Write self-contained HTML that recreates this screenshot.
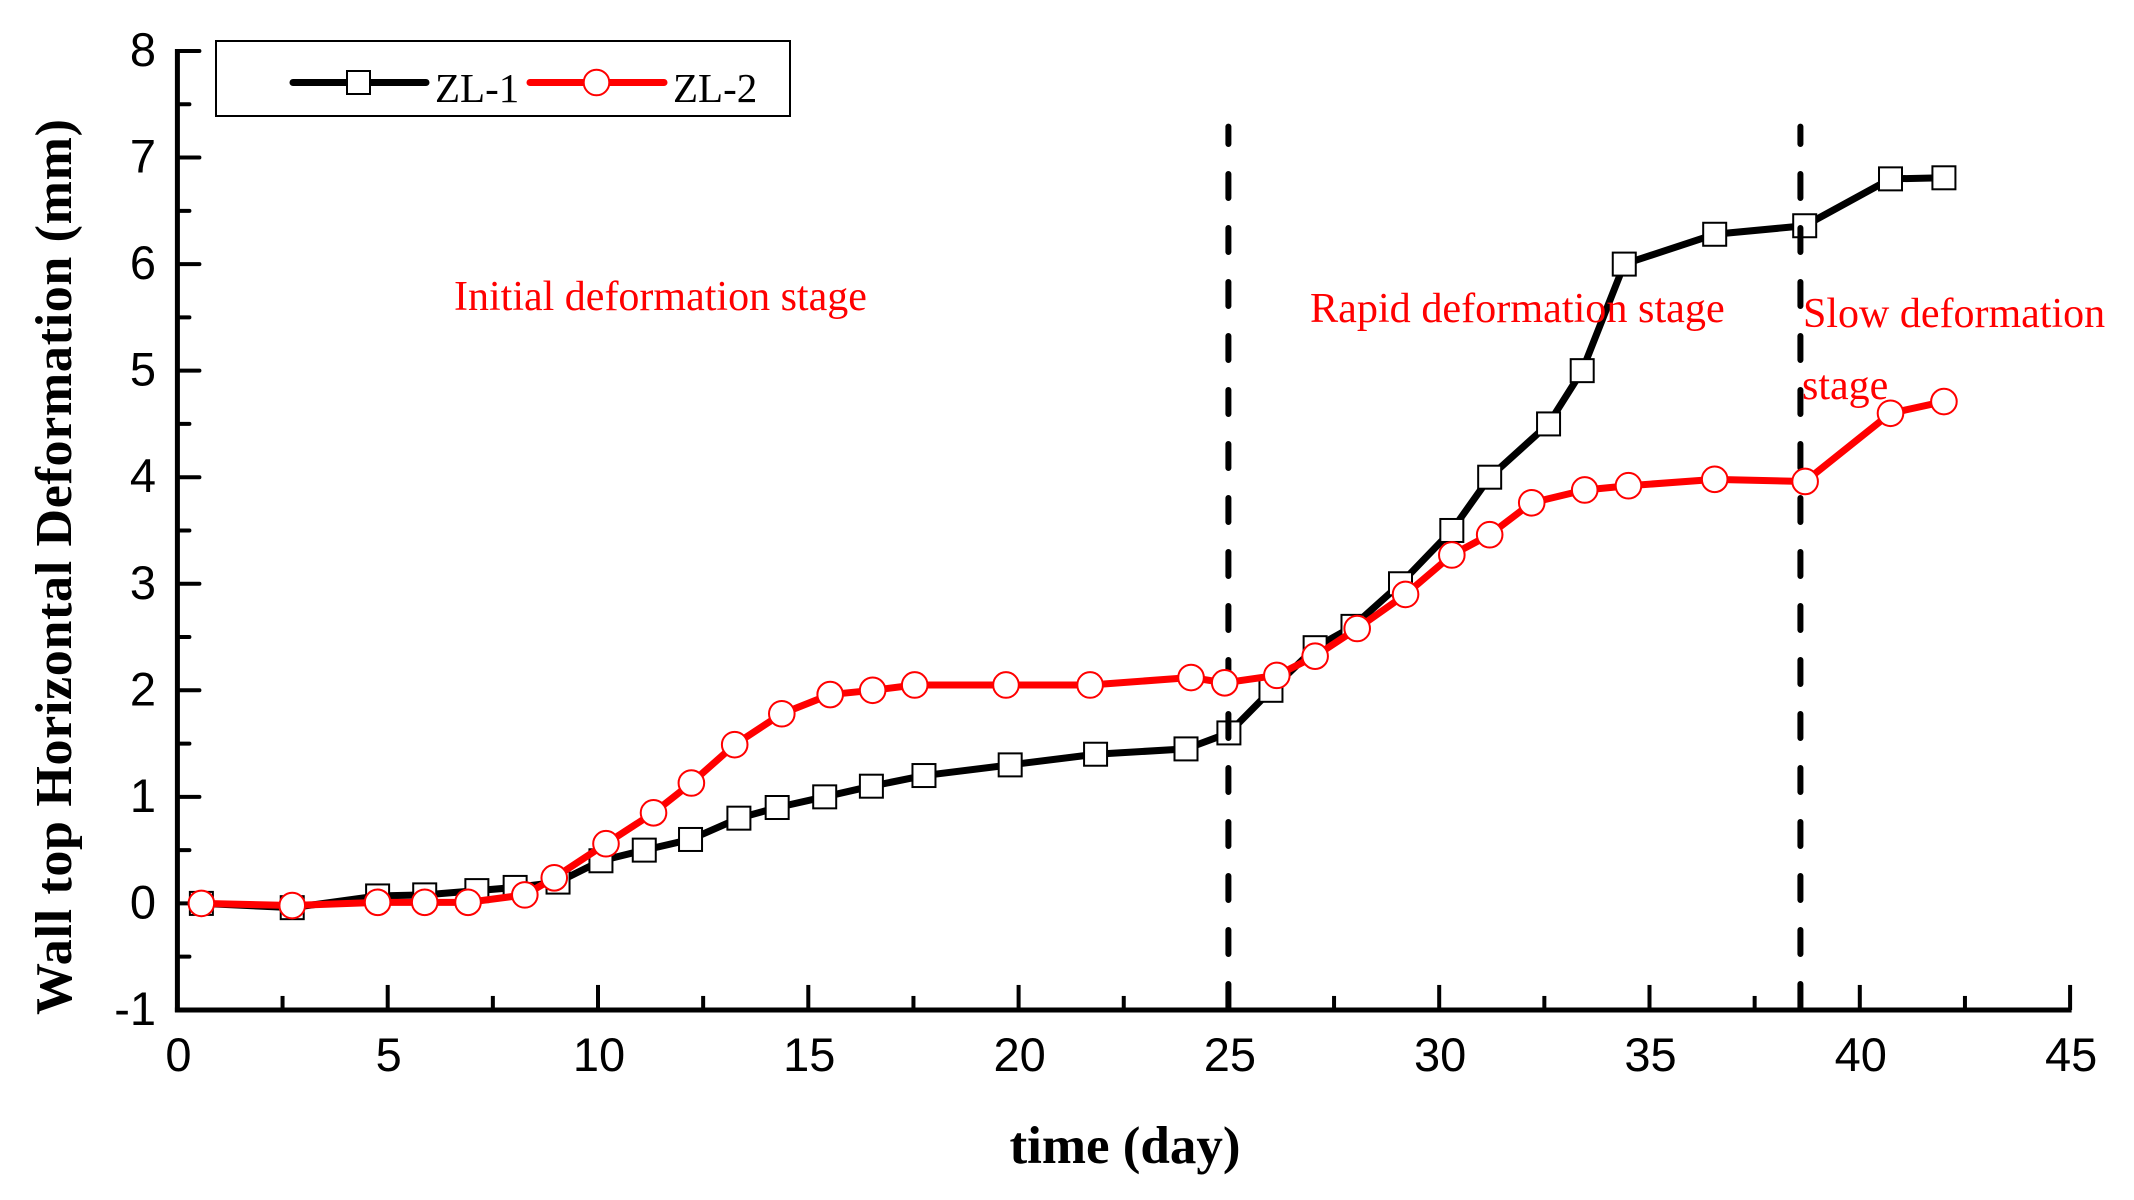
<!DOCTYPE html>
<html lang="en">
<head>
<meta charset="utf-8">
<title>Wall top Horizontal Deformation</title>
<style>
html,body{margin:0;padding:0;background:#fff;}
svg{display:block;}
.serif{font-family:"Liberation Serif",serif;}
.sans{font-family:"Liberation Sans",sans-serif;}
</style>
</head>
<body>
<svg id="chart" xmlns="http://www.w3.org/2000/svg" width="2134" height="1200" viewBox="0 0 2134 1200">
  <rect x="0" y="0" width="2134" height="1200" fill="#fff"/>
  <g id="axes"></g>
  <g id="series1"></g>
  <g id="stages"></g>
  <g id="series2"></g>
  <g>
    <rect x="216" y="41" width="574" height="75" fill="#fff" stroke="#000" stroke-width="2"/>
    <g>
      <line x1="293" y1="82.5" x2="426" y2="82.5" stroke="#000" stroke-width="7" stroke-linecap="round"/>
      <rect x="347" y="71" width="23" height="23" fill="#fff" stroke="#000" stroke-width="2"/>
      <text class="serif" x="435" y="102" font-size="41" fill="#000">ZL-1</text>
    </g>
    <g>
      <line x1="530" y1="82.5" x2="664" y2="82.5" stroke="#f00" stroke-width="7" stroke-linecap="round"/>
      <circle cx="596.5" cy="82.5" r="12.8" fill="#fff" stroke="#f00" stroke-width="2"/>
      <text class="serif" x="673" y="102" font-size="41" fill="#000">ZL-2</text>
    </g>
  </g>
  <text class="serif" x="1125" y="1163" font-size="53" font-weight="bold" text-anchor="middle" fill="#000">time (day)</text>
  <text class="serif" transform="translate(71,1015) rotate(-90)" x="0" y="0" font-size="52" font-weight="bold" textLength="896" lengthAdjust="spacing" fill="#000">Wall top Horizontal Deformation (mm)</text>
  <text class="serif" x="454" y="310" font-size="42" fill="#f00">Initial deformation stage</text>
  <text class="serif" x="1310" y="322" font-size="42.2" fill="#f00">Rapid deformation stage</text>
  <text class="serif" x="1803" y="327" font-size="42" fill="#f00">Slow deformation</text>
  <text class="serif" x="1802" y="399" font-size="42" fill="#f00">stage</text>
</svg>
<script>
var xTickLabels = [0, 5, 10, 15, 20, 25, 30, 35, 40, 45];
var xMinorTicks = [2.5, 7.5, 12.5, 17.5, 22.5, 27.5, 32.5, 37.5, 42.5];
var yTickLabels = [-1, 0, 1, 2, 3, 4, 5, 6, 7, 8];
var yMinorTicks = [-0.5, 0.5, 1.5, 2.5, 3.5, 4.5, 5.5, 6.5, 7.5];
var stageBoundaries = [25, 38.6];
var stageLineTop = [7.29];

var zl1Days = [0.57, 2.73, 4.76, 5.88, 7.12, 8.03, 9.05, 10.07, 11.1, 12.2, 13.35, 14.26, 15.39, 16.5, 17.75, 19.8, 21.83, 23.98, 25, 26, 27.05, 27.95, 29.08, 30.3, 31.2, 32.6, 33.4, 34.4, 36.55, 38.69, 40.73, 42];
var zl1Values = [0, -0.04, 0.07, 0.08, 0.12, 0.15, 0.2, 0.4, 0.5, 0.6, 0.8, 0.9, 1, 1.1, 1.2, 1.3, 1.4, 1.45, 1.6, 2, 2.4, 2.6, 3, 3.5, 4, 4.5, 5, 6, 6.28, 6.36, 6.8, 6.81];

var zl2Days = [0.57, 2.73, 4.76, 5.88, 6.91, 8.26, 8.96, 10.19, 11.32, 12.22, 13.25, 14.37, 15.52, 16.53, 17.53, 19.7, 21.7, 24.1, 24.9, 26.14, 27.05, 28.05, 29.2, 30.3, 31.2, 32.2, 33.46, 34.5, 36.55, 38.7, 40.73, 42];
var zl2Values = [0, -0.02, 0.01, 0.01, 0.01, 0.08, 0.24, 0.56, 0.85, 1.13, 1.49, 1.78, 1.96, 2, 2.05, 2.05, 2.05, 2.12, 2.07, 2.14, 2.32, 2.58, 2.9, 3.27, 3.46, 3.76, 3.88, 3.92, 3.98, 3.96, 4.6, 4.71];

function xScale(v) { return 177.4 + 42.06 * v; }
function yScale(v) { return 903.4 - 106.55 * v; }

var SVG_NS = 'http://www.w3.org/2000/svg';
function mk(tag, parent) {
  var el = document.createElementNS(SVG_NS, tag);
  parent.appendChild(el);
  return el;
}
function strokeLine(el, x1, y1, x2, y2, color, width, cap) {
  el.setAttribute('x1', x1);
  el.setAttribute('y1', y1);
  el.setAttribute('x2', x2);
  el.setAttribute('y2', y2);
  el.setAttribute('stroke', color);
  el.setAttribute('stroke-width', width);
  el.setAttribute('stroke-linecap', cap);
}

var axes = document.getElementById('axes');
var xMax = xTickLabels[xTickLabels.length - 1];
var yMax = yTickLabels[yTickLabels.length - 1];
var yMin = yTickLabels[0];
var xMin = xTickLabels[0];

var xAxis = mk('line', axes);


strokeLine(xAxis, xScale(xMin) - 2.5, yScale(yMin), xScale(xMax) + 1.5, yScale(yMin), '#000', 5, 'butt');

var yAxis = mk('line', axes);


strokeLine(yAxis, xScale(xMin), yScale(yMin) + 2, xScale(xMin), yScale(yMax) - 2, '#000', 5, 'butt');

xTickLabels.forEach(function (v) {
  var t = mk('line', axes);
  
  
  strokeLine(t, xScale(v), yScale(yMin), xScale(v), yScale(yMin) - 25, '#000', 4, 'butt');
  var l = mk('text', axes);
  
  
  l.setAttribute('class', 'sans');
  l.setAttribute('x', xScale(v) + 1);
  l.setAttribute('y', 1071);
  l.setAttribute('font-size', '47');
  l.setAttribute('text-anchor', 'middle');
  l.textContent = v;
});
xMinorTicks.forEach(function (v) {
  var t = mk('line', axes);
  
  
  strokeLine(t, xScale(v), yScale(yMin), xScale(v), yScale(yMin) - 14, '#000', 4, 'butt');
});
yTickLabels.forEach(function (v) {
  var t = mk('line', axes);
  
  
  strokeLine(t, xScale(xMin), yScale(v), xScale(xMin) + 22, yScale(v), '#000', 4, 'round');
  var l = mk('text', axes);
  
  
  l.setAttribute('class', 'sans');
  l.setAttribute('x', 156);
  l.setAttribute('y', yScale(v) + 15);
  l.setAttribute('font-size', '47');
  l.setAttribute('text-anchor', 'end');
  l.textContent = v;
});
yMinorTicks.forEach(function (v) {
  var t = mk('line', axes);
  
  
  strokeLine(t, xScale(xMin), yScale(v), xScale(xMin) + 12, yScale(v), '#000', 4, 'round');
});

function pointsOf(days, values) {
  return days.map(function (d, i) { return xScale(d) + ',' + yScale(values[i]); }).join(' ');
}

var s1 = document.getElementById('series1');
var line1 = mk('polyline', s1);


line1.setAttribute('points', pointsOf(zl1Days, zl1Values));
line1.setAttribute('fill', 'none');
line1.setAttribute('stroke', '#000');
line1.setAttribute('stroke-width', '7');
line1.setAttribute('stroke-linejoin', 'round');
zl1Days.forEach(function (d, i) {
  var m = mk('rect', s1);
  
  
  m.setAttribute('x', xScale(d) - 11.5);
  m.setAttribute('y', yScale(zl1Values[i]) - 11.5);
  m.setAttribute('width', 23);
  m.setAttribute('height', 23);
  m.setAttribute('fill', '#fff');
  m.setAttribute('stroke', '#000');
  m.setAttribute('stroke-width', '2');
});

var stages = document.getElementById('stages');
stageBoundaries.forEach(function (v) {
  var d = mk('line', stages);
  
  
  strokeLine(d, xScale(v) - 0.5, yScale(yMin) - 2, xScale(v) - 0.5, yScale(stageLineTop[0]), '#000', 6, 'round');
  d.setAttribute('stroke-dasharray', '24 30');
});

var s2 = document.getElementById('series2');
var line2 = mk('polyline', s2);


line2.setAttribute('points', pointsOf(zl2Days, zl2Values));
line2.setAttribute('fill', 'none');
line2.setAttribute('stroke', '#f00');
line2.setAttribute('stroke-width', '7');
line2.setAttribute('stroke-linejoin', 'round');
zl2Days.forEach(function (d, i) {
  var m = mk('circle', s2);
  
  
  m.setAttribute('cx', xScale(d));
  m.setAttribute('cy', yScale(zl2Values[i]));
  m.setAttribute('r', 12.8);
  m.setAttribute('fill', '#fff');
  m.setAttribute('stroke', '#f00');
  m.setAttribute('stroke-width', '2');
});
</script>
</body>
</html>
